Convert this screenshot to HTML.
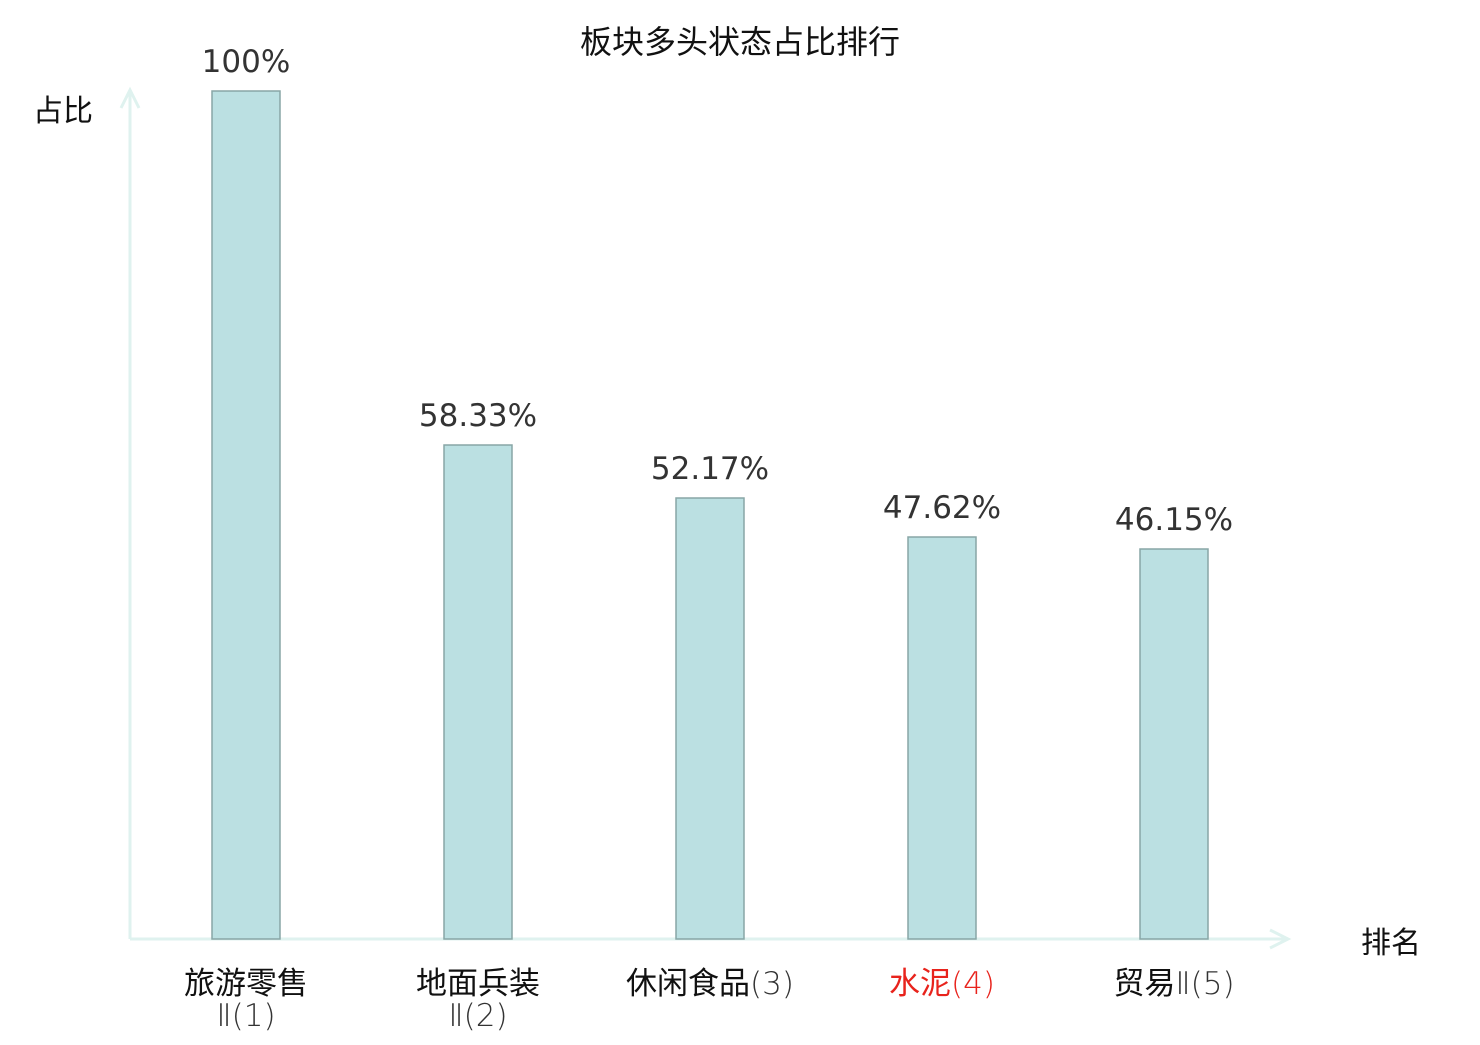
<!DOCTYPE html>
<html><head><meta charset="utf-8"><style>
html,body{margin:0;padding:0;background:#fff;}
.c{font-family:"Noto Sans CJK SC",sans-serif;}
.l{font-family:"DejaVu Sans","Noto Sans CJK SC",sans-serif;font-weight:200;fill:#333;}
.v{font-family:"DejaVu Sans",sans-serif;font-size:31px;fill:#333;}
</style></head><body>
<svg width="1480" height="1040" xmlns="http://www.w3.org/2000/svg">
<text x="740" y="53" text-anchor="middle" class="c" font-size="32" fill="#111">板块多头状态占比排行</text>
<text x="63" y="121" text-anchor="middle" class="c" font-size="30" fill="#111">占比</text>
<text x="1391" y="953" text-anchor="middle" class="c" font-size="30" fill="#111">排名</text>
<g stroke="#dff2ef" stroke-width="3" fill="none">
<line x1="130" y1="939" x2="1288" y2="939"/>
<line x1="130" y1="939" x2="130" y2="90"/>
<polyline points="121,108 130,90 139,108"/>
<polyline points="1270,930 1288,939 1270,948"/>
</g>
<g fill="#bbe0e2" stroke="#88a6a6" stroke-width="1.5">
<rect x="212" y="91" width="68" height="848"/>
<rect x="444" y="445" width="68" height="494"/>
<rect x="676" y="498" width="68" height="441"/>
<rect x="908" y="537" width="68" height="402"/>
<rect x="1140" y="549" width="68" height="390"/>
</g>
<text class="v" x="246" y="72" text-anchor="middle">100%</text>
<text class="v" x="478" y="426" text-anchor="middle">58.33%</text>
<text class="v" x="710" y="479" text-anchor="middle">52.17%</text>
<text class="v" x="942" y="518" text-anchor="middle">47.62%</text>
<text class="v" x="1174" y="530" text-anchor="middle">46.15%</text>
<g class="c" font-size="31" text-anchor="middle" fill="#111">
<text x="246" y="994">旅游零售</text>
<text x="246" y="1026" class="l">Ⅱ(1)</text>
<text x="478" y="994">地面兵装</text>
<text x="478" y="1026" class="l">Ⅱ(2)</text>
<text x="710" y="994">休闲食品<tspan class="l">(3)</tspan></text>
<text x="942" y="994" fill="#e8231c">水泥<tspan class="l" fill="#e8231c" style="fill:#e8231c">(4)</tspan></text>
<text x="1174" y="994">贸易<tspan class="l">Ⅱ(5)</tspan></text>
</g>
</svg>
</body></html>
